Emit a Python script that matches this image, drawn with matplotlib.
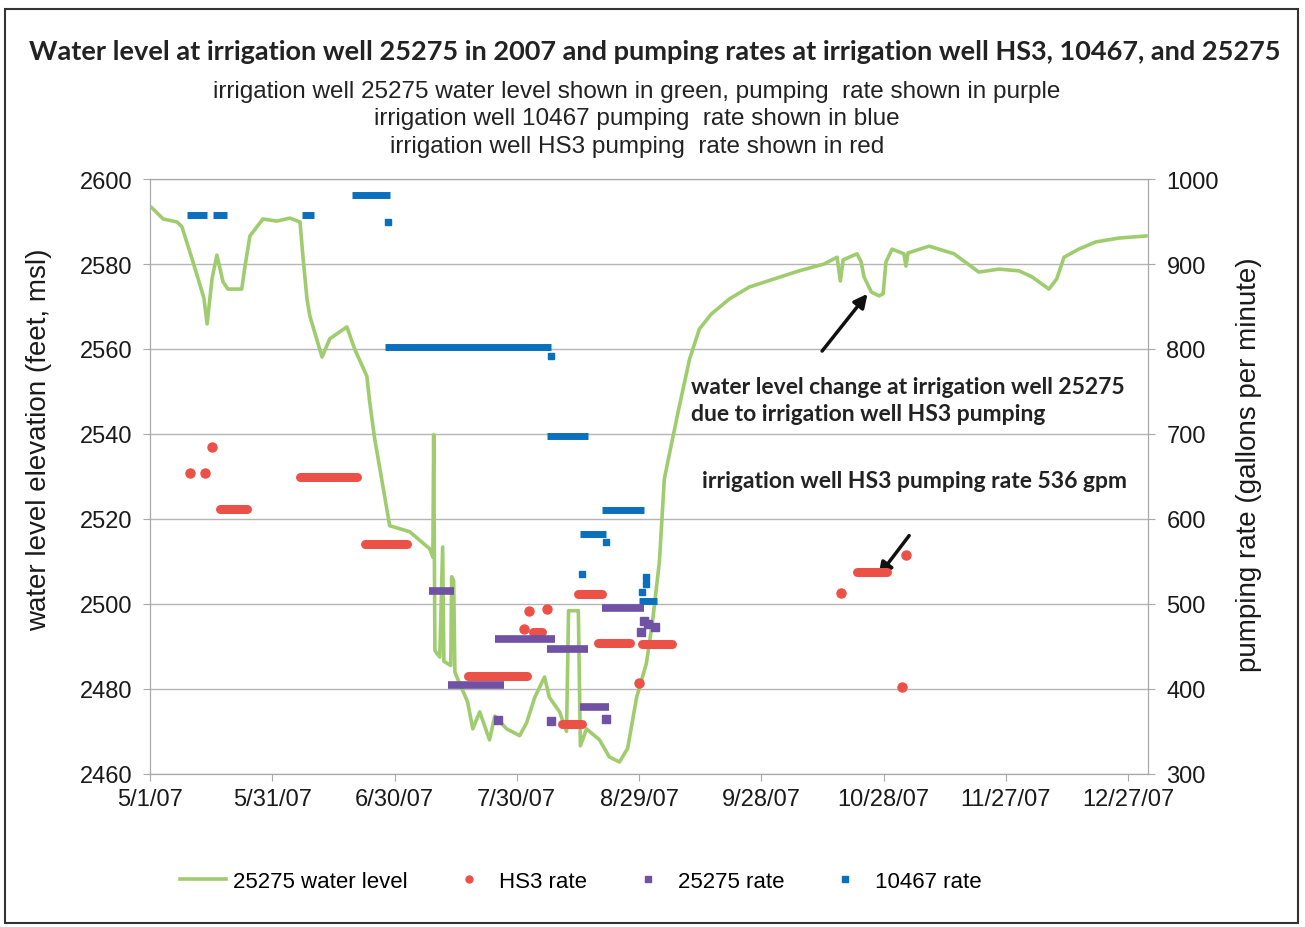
"""Water level at irrigation well 25275 (2007) with pumping rates at
wells HS3, 10467 and 25275."""

from datetime import datetime

import matplotlib
matplotlib.use("Agg")
import matplotlib.pyplot as plt
import matplotlib.dates as mdates
from matplotlib.lines import Line2D
from matplotlib.patches import Rectangle
import numpy as np

START = datetime(2007, 5, 1)

# water level at 25275: days after 5/1/07, elevation (ft msl)
level_day = [0, 0.5, 3.2, 6.6, 7.8, 10.3, 11.8, 13.2, 14.0, 15.2, 16.4, 17.9,
             19.1, 22.5, 23.3, 24.5, 27.7, 31.1, 34.3, 36.8, 37.5, 38.5, 39.2,
             42.2, 44.1, 48.3, 50.2, 53.2, 53.9, 55.1, 56.4, 58.8, 63.7, 68.6,
             69.4, 69.6, 69.9, 71.1, 71.8, 72.1, 73.8, 74.0, 74.5, 74.8, 75.2,
             77.9, 79.2, 80.9, 83.3, 84.6, 87.5, 90.7, 92.4, 94.4, 96.8, 98.0,
             100.5, 102.2, 102.7, 105.1, 105.6, 107.1, 110.3, 112.7, 115.2,
             117.2, 119.4, 121.8, 123.3, 125.0, 126.2, 128.2, 129.9, 132.4,
             134.8, 137.7, 142.2, 147.1, 153.2, 159.3, 165.4, 168.6, 169.4,
             170.1, 173.5, 174.5, 175.2, 177.0, 178.9, 179.9, 180.6, 182.1,
             185.0, 185.5, 186.0, 191.2, 197.3, 203.4, 208.3, 213.2, 216.4,
             220.6, 222.5, 224.3, 227.9, 232.1, 237.7, 244.4]
level_ft = [2593.5, 2593.2, 2590.6, 2589.9, 2588.8, 2581.2, 2576.5, 2572.0,
            2565.9, 2576.5, 2582.1, 2575.8, 2574.1, 2574.1, 2579.5, 2586.6,
            2590.6, 2590.1, 2590.8, 2589.9, 2581.9, 2571.8, 2567.8, 2558.1,
            2562.4, 2565.2, 2560.0, 2553.6, 2547.5, 2539.0, 2531.8, 2518.4,
            2517.0, 2513.0, 2511.0, 2539.8, 2489.0, 2487.5, 2513.4, 2486.5,
            2485.5, 2506.4, 2505.5, 2484.0, 2483.0, 2477.0, 2470.6, 2474.6,
            2468.0, 2473.6, 2470.6, 2469.0, 2472.0, 2478.0, 2482.8, 2478.0,
            2474.6, 2470.0, 2498.4, 2498.4, 2466.6, 2470.6, 2468.0, 2464.0,
            2462.8, 2466.0, 2478.0, 2486.0, 2495.8, 2510.0, 2529.4, 2538.8,
            2546.6, 2557.6, 2564.7, 2568.2, 2571.8, 2574.6, 2576.5, 2578.4,
            2580.0, 2581.6, 2576.0, 2581.0, 2582.4, 2580.5, 2577.0, 2573.4,
            2572.5, 2573.0, 2580.5, 2583.5, 2582.4, 2579.5, 2582.6, 2584.2,
            2582.4, 2578.1, 2578.8, 2578.4, 2577.0, 2574.1, 2576.5, 2581.6,
            2583.5, 2585.2, 2586.1, 2586.6]

# pumping runs (start day, end day, gpm) and single readings (day, gpm)
hs3_run_start = [17.2, 36.8, 52.7, 77.9, 93.9, 101.0, 104.9, 110.0, 120.8, 173.5]
hs3_run_end = [23.8, 50.7, 63.0, 92.4, 96.3, 105.9, 110.8, 117.9, 128.2, 180.9]
hs3_run_gpm = [612, 649, 571, 415, 467, 359, 512, 454, 453, 537]
hs3_pt_day = [9.8, 13.5, 15.2, 91.7, 92.9, 97.5, 120.1, 169.6, 185.5, 184.6]
hs3_pt_gpm = [654, 654, 685, 471, 492, 494, 407, 513, 558, 402]

w25275_run_start = [68.4, 73.0, 84.6, 97.5, 105.4, 110.8]
w25275_run_end = [74.5, 86.8, 99.3, 107.4, 112.7, 121.3]
w25275_run_gpm = [515, 405, 459, 447, 379, 495]
w25275_pt_day = [85.5, 98.5, 111.8, 120.6, 121.3, 122.1, 123.8]
w25275_pt_gpm = [363, 362, 365, 467, 480, 476, 473]

w10467_run_start = [9.1, 15.4, 37.3, 49.5, 57.6, 97.5, 105.6, 111.0, 120.1]
w10467_run_end = [14.0, 18.9, 40.2, 58.8, 98.5, 107.4, 112.0, 121.3, 124.3]
w10467_run_gpm = [958, 958, 958, 981, 802, 698, 582, 610, 503]
w10467_pt_day = [58.3, 98.4, 111.8, 106.1, 120.8, 121.6, 121.8]
w10467_pt_gpm = [950, 792, 573, 535, 514, 523, 532]

GREEN = "#9fcc6e"
RED = "#ec5147"
PURPLE = "#6f52a3"
BLUE = "#0a70bd"
TEXT_FONT = ["Liberation Sans", "DejaVu Sans"]
NARROW_FONT = ["Liberation Sans Narrow", "Liberation Sans", "DejaVu Sans"]
TITLE_FONT = ["Lato", "DejaVu Sans"]


def to_num(days):
    return mdates.date2num(START) + np.asarray(days, dtype=float)


def date_label(x, pos=None):
    d = mdates.num2date(x)
    return f"{d.month}/{d.day}/{d.strftime('%y')}"


fig = plt.figure(figsize=(13.05, 9.28), dpi=100)
ax = fig.add_axes([0.115, 0.165, 0.765, 0.641])
ax2 = ax.twinx()

ax.plot(to_num(level_day), level_ft, color=GREEN, lw=2.6, zorder=3)

def draw_runs(axis, start, end, gpm, color, lw, cap):
    axis.hlines(gpm, to_num(start), to_num(end), colors=color,
                linewidth=lw, capstyle=cap, zorder=4)

draw_runs(ax2, w10467_run_start, w10467_run_end, w10467_run_gpm, BLUE, 5, "butt")
draw_runs(ax2, hs3_run_start, hs3_run_end, hs3_run_gpm, RED, 6.5, "round")
draw_runs(ax2, w25275_run_start, w25275_run_end, w25275_run_gpm, PURPLE, 5.5, "butt")
ax2.plot(to_num(w10467_pt_day), w10467_pt_gpm, "s", color=BLUE, ms=5, ls="none", zorder=4)
ax2.plot(to_num(hs3_pt_day), hs3_pt_gpm, "o", color=RED, ms=6.5, ls="none", zorder=4)
ax2.plot(to_num(w25275_pt_day), w25275_pt_gpm, "s", color=PURPLE, ms=6, ls="none", zorder=4)

ax.set_xlim(to_num(0), to_num(245))
ax.set_ylim(2460, 2600)
ax2.set_ylim(300, 1000)
ax.set_yticks(np.arange(2460, 2601, 20))
ax2.set_yticks(np.arange(300, 1001, 100))
ax.set_xticks(to_num(np.arange(0, 241, 30)))
ax.xaxis.set_major_formatter(plt.FuncFormatter(date_label))
ax.grid(axis="y", color="#b5b5b5", lw=1)
ax.set_axisbelow(True)

for a in (ax, ax2):
    for s in a.spines.values():
        s.set_color("#a8a8a8")
    a.tick_params(colors="#a8a8a8", length=5, labelcolor="#1a1a1a",
                  labelsize=17)
    for lab in a.get_xticklabels() + a.get_yticklabels():
        lab.set_family(TEXT_FONT)
ax.tick_params(axis="x", pad=5)
ax.tick_params(axis="y", pad=8)
ax2.tick_params(axis="y", pad=8)

ax.set_ylabel("water level elevation (feet, msl)", fontsize=20,
              family=TEXT_FONT, color="#1a1a1a")
ax.yaxis.set_label_coords(-0.098, 0.563)
ax2.set_ylabel("pumping rate (gallons per minute)", fontsize=20,
               family=TEXT_FONT, color="#1a1a1a", rotation=90)
ax2.yaxis.set_label_coords(1.088, 0.521)

fig.text(0.502, 0.944, "Water level at irrigation well 25275 in 2007 and pumping "
         "rates at irrigation well HS3, 10467, and 25275", ha="center",
         va="center", fontsize=19.5, fontweight="bold", family=TITLE_FONT,
         color="#222222")
subtitles = ["irrigation well 25275 water level shown in green, pumping  rate shown in purple",
             "irrigation well 10467 pumping  rate shown in blue",
             "irrigation well HS3 pumping  rate shown in red"]
for i, line in enumerate(subtitles):
    fig.text(0.488, 0.901 - i * 0.0295, line, ha="center", va="center",
             fontsize=17.5, family=NARROW_FONT, color="#222222")

# annotations
note_kw = dict(fontsize=16.5, fontweight="bold", family=TITLE_FONT, color="#222222")
ax.annotate("", xy=(to_num(176.5), 2573.5), xytext=(to_num(164.5), 2559),
            arrowprops=dict(arrowstyle="-|>", color="#111111", lw=2.5,
                            mutation_scale=20))
ax.text(to_num(132.8), 2553.6, "water level change at irrigation well 25275\n"
        "due to irrigation well HS3 pumping", ha="left", va="top",
        linespacing=1.35, **note_kw)
ax2.annotate("", xy=(to_num(178.3), 530), xytext=(to_num(186.7), 583),
             arrowprops=dict(arrowstyle="-|>", color="#111111", lw=2.5,
                             mutation_scale=20))
ax2.text(to_num(135.5), 645, "irrigation well HS3 pumping rate 536 gpm",
         ha="left", va="center", **note_kw)

handles = [Line2D([], [], color=GREEN, lw=2.6),
           Line2D([], [], marker="o", color=RED, ls="none", ms=5),
           Line2D([], [], marker="s", color=PURPLE, ls="none", ms=5),
           Line2D([], [], marker="s", color=BLUE, ls="none", ms=4)]
fig.legend(handles, ["25275 water level", "HS3 rate", "25275 rate", "10467 rate"],
           loc="center", bbox_to_anchor=(0.445, 0.049), ncol=4, frameon=False,
           prop={"family": TEXT_FONT, "size": 16}, handlelength=2.1,
           columnspacing=1.7, handletextpad=0.3)

fig.add_artist(Rectangle((0.004, 0.004), 0.991, 0.985, transform=fig.transFigure,
                         fill=False, edgecolor="#333333", lw=1.5))

fig.savefig("out.png", dpi=100)
